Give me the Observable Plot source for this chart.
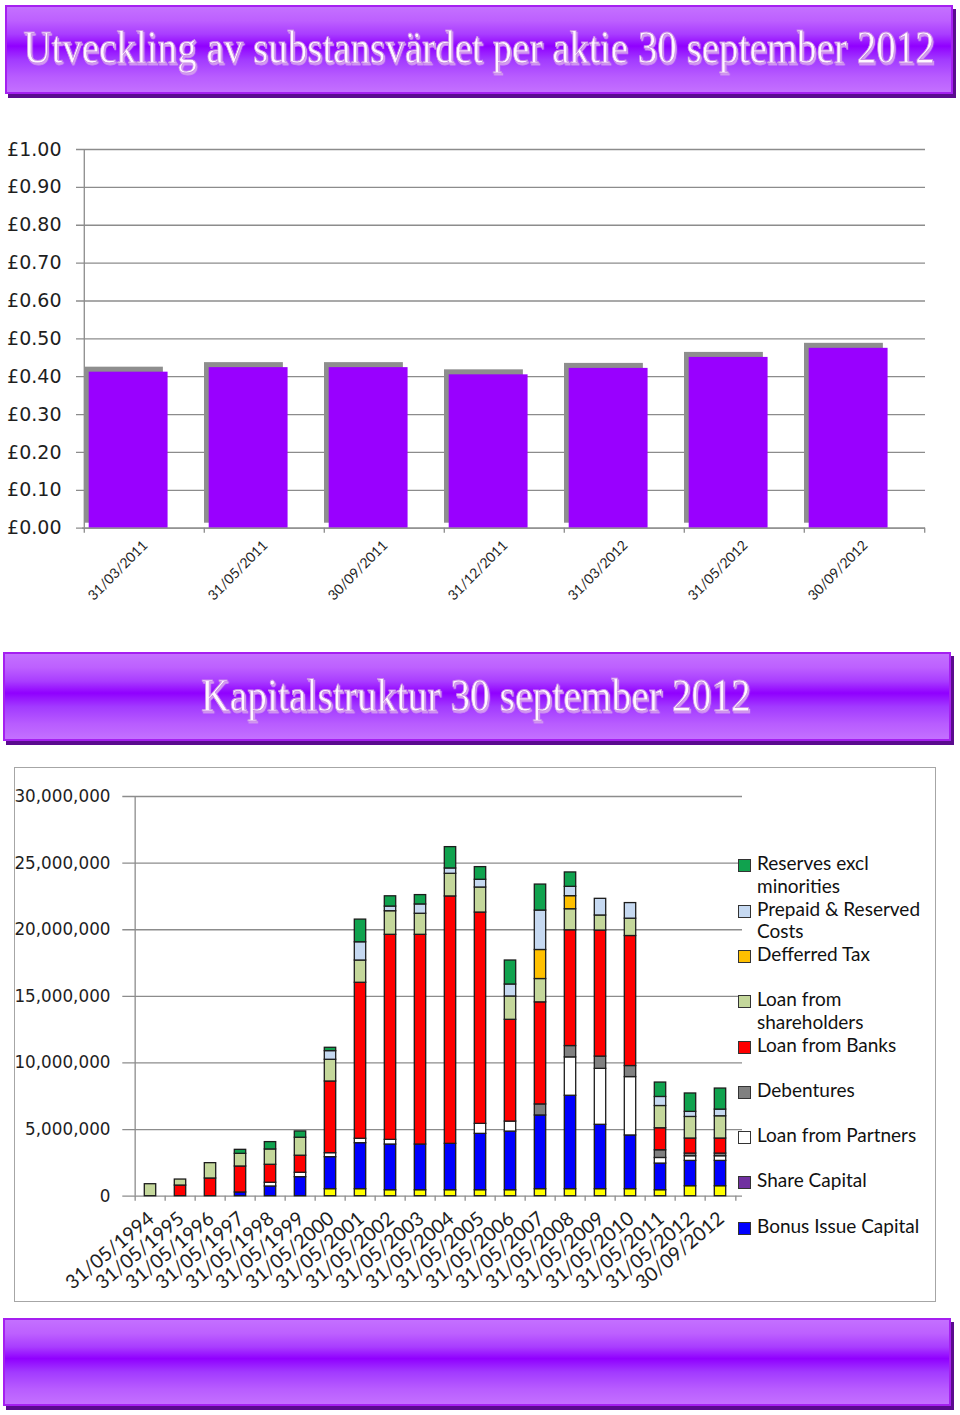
<!DOCTYPE html>
<html><head><meta charset="utf-8">
<script src="https://cdn.jsdelivr.net/npm/d3@7"></script>
<script src="https://cdn.jsdelivr.net/npm/@observablehq/plot@0.6"></script>
<style>
body{margin:0;background:#fff;}
#page{position:relative;width:960px;height:1415px;overflow:hidden;background:#fff;}
.banner{position:absolute;box-sizing:border-box;border:2px solid #a51ff0;
 background:linear-gradient(to bottom,#c470ff 0%,#bd60ff 16%,#a93dff 32%,#9000ff 46%,#a23aff 62%,#b85cff 82%,#c470ff 100%);
 box-shadow:3px 4px 0 #5b0b8f;}
.banner svg{position:absolute;left:0;top:0;overflow:visible;}
.chart{position:absolute;left:0;}
#box2{position:absolute;left:14px;top:767px;width:922px;height:535px;box-sizing:border-box;border:1.5px solid #a6a6a6;}
.lg-sw{position:absolute;width:11px;height:11px;border:1px solid #333;box-sizing:content-box;}
.lg-tx{position:absolute;font-family:Lato,sans-serif;font-size:19px;line-height:22.7px;color:#111;white-space:pre;}
</style></head>
<body><div id="page"></div>
<script>
// ---------- data ----------
const title1 = "Utveckling av substansvärdet per aktie 30 september 2012";
const title2 = "Kapitalstruktur 30 september 2012";

const navDates = ["31/03/2011","31/05/2011","30/09/2011","31/12/2011","31/03/2012","31/05/2012","30/09/2012"];
const navValues = [0.412,0.424,0.424,0.405,0.422,0.451,0.475];
const navTicks = [0,0.1,0.2,0.3,0.4,0.5,0.6,0.7,0.8,0.9,1.0];

const capDates = ["31/05/1994","31/05/1995","31/05/1996","31/05/1997","31/05/1998","31/05/1999","31/05/2000",
 "31/05/2001","31/05/2002","31/05/2003","31/05/2004","31/05/2005","31/05/2006","31/05/2007","31/05/2008",
 "31/05/2009","31/05/2010","31/05/2011","31/05/2012","30/09/2012"];
const capTicks = [0,5,10,15,20,25,30]; // millions

// series, bottom of stack first (values in millions)
const seriesNames = ["(not in legend)","Bonus Issue Capital","Share Capital","Loan from Partners","Debentures",
 "Loan from Banks","Loan from shareholders","Defferred Tax","Prepaid & Reserved Costs","Reserves excl minorities"];
const seriesColors = ["#ffff00","#0000ff","#7030a0","#ffffff","#808080","#ff0000","#c4d79b","#ffc000","#c6d9f1","#10a24e"];
const unlabelled        = [0,0,0,0,0,0,0.53,0.53,0.45,0.45,0.45,0.45,0.45,0.53,0.53,0.53,0.53,0.45,0.75,0.75];
const bonusIssueCapital = [0,0,0,0.28,0.73,1.43,2.4,3.45,3.43,3.43,3.48,4.23,4.4,5.53,7.01,4.83,4.03,2.0,1.9,1.9];
const shareCapital      = [0,0,0,0,0,0,0,0,0,0,0,0,0,0,0,0,0,0,0,0];
const loanPartners      = [0,0,0,0,0.28,0.33,0.3,0.33,0.35,0,0,0.75,0.75,0,2.88,4.2,4.38,0.42,0.35,0.35];
const debentures        = [0,0,0,0,0,0,0,0,0,0,0,0,0,0.83,0.85,0.92,0.83,0.58,0.2,0.2];
const loanBanks         = [0,0.8,1.33,1.95,1.35,1.28,5.38,11.71,15.39,15.74,18.57,15.86,7.64,7.66,8.69,9.46,9.76,1.65,1.13,1.13];
const loanShareholders  = [0.9,0.45,1.15,0.95,1.15,1.35,1.63,1.67,1.77,1.58,1.7,1.88,1.75,1.75,1.58,1.13,1.3,1.67,1.62,1.67];
const deferredTax       = [0,0,0,0,0,0,0,0,0,0,0,0,0,2.18,0.98,0,0,0,0,0];
const prepaidCosts      = [0,0,0,0,0,0,0.65,1.37,0.35,0.7,0.4,0.58,0.9,2.96,0.7,1.25,1.17,0.68,0.38,0.5];
const reserves          = [0,0,0,0.3,0.55,0.47,0.25,1.7,0.77,0.7,1.6,0.95,1.8,1.95,1.08,0,0,1.08,1.38,1.58];
const seriesValues = [unlabelled,bonusIssueCapital,shareCapital,loanPartners,debentures,loanBanks,
 loanShareholders,deferredTax,prepaidCosts,reserves];

const legendLabels = ["Reserves excl\nminorities","Prepaid & Reserved\nCosts","Defferred Tax","Loan from\nshareholders",
 "Loan from Banks","Debentures","Loan from Partners","Share Capital","Bonus Issue Capital"];
const legendColors = ["#10a24e","#c6d9f1","#ffc000","#c4d79b","#ff0000","#808080","#ffffff","#7030a0","#0000ff"];

// ---------- page ----------
const page = document.getElementById("page");
const NS = "http://www.w3.org/2000/svg";
function banner(left, top, w, h, text, cx, baseY, len) {
  const d = document.createElement("div");
  d.className = "banner";
  Object.assign(d.style, {left: left+"px", top: top+"px", width: w+"px", height: h+"px"});
  page.appendChild(d);
  if (!text) return;
  const s = document.createElementNS(NS, "svg");
  s.setAttribute("width", w - 4); s.setAttribute("height", h - 4);
  s.innerHTML = `<defs><filter id="f${top}" x="-5%" y="-20%" width="110%" height="140%"><feDropShadow dx="1.2" dy="1.5" stdDeviation="0.4" flood-color="#d49cf0" flood-opacity="1"/></filter></defs>`;
  d.appendChild(s);
  const baseSize = 47;
  const t = document.createElementNS(NS, "text");
  t.setAttribute("text-anchor", "middle");
  t.setAttribute("font-family", "Liberation Serif, DejaVu Serif, serif");
  t.setAttribute("font-size", baseSize);
  t.setAttribute("fill", "#fff6ff");
  t.setAttribute("stroke", "#c98ce6"); t.setAttribute("stroke-width", "0.7");
  t.setAttribute("filter", `url(#f${top})`);
  t.textContent = text;
  s.appendChild(t);
  // fit the natural width to the target width, then stretch vertically to keep the cap height
  const natural = t.getComputedTextLength();
  const fs = baseSize * len / natural;
  const k = baseSize / fs;
  t.setAttribute("font-size", fs);
  t.setAttribute("x", cx);
  t.setAttribute("y", baseY / k);
  t.setAttribute("transform", `scale(1,${k})`);
}
banner(5, 5, 948, 89, title1, 472, 56, 912);
banner(3, 652, 948, 89, title2, 471, 57, 550);
banner(3, 1318, 948, 88, "", 0, 0, 0);

const grid = "#8c8c8c";

// ---------- chart 1 ----------
{
  const W = 960, H = 530, mL = 82, mR = 35;
  const step = (W - mL - mR) / navDates.length;
  const data = navDates.map((d, i) => ({date: d, value: navValues[i]}));
  const svg = Plot.plot({
    width: W, height: H, marginTop: 49, marginBottom: 102.3, marginLeft: mL, marginRight: mR,
    x: {domain: navDates, padding: 0, axis: null},
    y: {domain: [0, 1], axis: null},
    style: {background: "transparent", overflow: "visible"},
    marks: [
      Plot.ruleY(navTicks, {stroke: grid, strokeWidth: 1.3, insetLeft: -6}),
      Plot.ruleX([navDates[0]], {dx: -step/2, y1: 0, y2: 1, stroke: grid, strokeWidth: 1.3}),
      Plot.barY(data, {x: "date", y: "value", fill: "#8e8e8e", insetLeft: 0, insetRight: step - 79.3, dy: -5}),
      Plot.barY(data, {x: "date", y: "value", fill: "#9900ff", insetLeft: 4.7, insetRight: step - 84}),
      Plot.ruleY([0], {stroke: grid, strokeWidth: 1.3}),
      Plot.ruleX(navDates, {dx: -step/2, y1: 0, y2: 0, insetBottom: -5, stroke: grid, strokeWidth: 1.3}),
      Plot.ruleX([navDates[navDates.length-1]], {dx: step/2, y1: 0, y2: 0, insetBottom: -5, stroke: grid, strokeWidth: 1.3}),
      Plot.text(navTicks, {y: d => d, text: d => "£" + d.toFixed(2), frameAnchor: "left", textAnchor: "end",
        dx: -21, fontFamily: "DejaVu Sans", fontSize: 19, fill: "#1e1e1e"}),
      Plot.text(navDates, {x: d => d, text: d => d, frameAnchor: "bottom", rotate: -45, textAnchor: "end",
        lineAnchor: "top", dx: -3, dy: 11, fontFamily: "Lato", fontSize: 14, fill: "#1e1e1e"})
    ]
  });
  svg.classList.add("chart"); svg.style.top = "100px";
  page.appendChild(svg);
}

// ---------- chart 2 ----------
const box = document.createElement("div"); box.id = "box2"; page.appendChild(box);
{
  const W = 960, H = 535, mL = 128.3, mR = 218;
  const step = (W - mL - mR) / capDates.length;
  const capData = [];
  seriesNames.forEach((s, si) => capDates.forEach((d, di) => {
    const v = seriesValues[si][di];
    if (v > 0) capData.push({date: d, series: s, value: v});
  }));
  const svg = Plot.plot({
    width: W, height: H, marginTop: 29, marginBottom: 106.3, marginLeft: mL, marginRight: mR,
    x: {domain: capDates, padding: 0, axis: null},
    y: {domain: [0, 30], axis: null},
    color: {domain: seriesNames, range: seriesColors},
    style: {background: "transparent", overflow: "visible"},
    marks: [
      Plot.ruleY(capTicks, {stroke: grid, strokeWidth: 1.3, insetLeft: -6}),
      Plot.ruleX([capDates[0]], {dx: -step/2, y1: 0, y2: 30, stroke: grid, strokeWidth: 1.3}),
      Plot.barY(capData, {x: "date", y: "value", fill: "series", order: seriesNames,
        stroke: "#1c1c1c", strokeWidth: 1.3, insetLeft: 9.3, insetRight: 9.3}),
      Plot.ruleX(capDates, {dx: -step/2, y1: 0, y2: 0, insetBottom: -5, stroke: grid, strokeWidth: 1.3}),
      Plot.ruleX([capDates[capDates.length-1]], {dx: step/2, y1: 0, y2: 0, insetBottom: -5, stroke: grid, strokeWidth: 1.3}),
      Plot.text(capTicks, {y: d => d, text: d => d3.format(",")(d * 1e6), frameAnchor: "left", textAnchor: "end",
        dx: -18.3, fontFamily: "DejaVu Sans", fontSize: 16.8, fill: "#1e1e1e"}),
      Plot.text(capDates, {x: d => d, text: d => d, frameAnchor: "bottom", rotate: -40, textAnchor: "end",
        lineAnchor: "top", dx: -4, dy: 14, fontFamily: "Lato", fontSize: 19.5, fill: "#1e1e1e"})
    ]
  });
  svg.classList.add("chart"); svg.style.top = "767px";
  page.appendChild(svg);
}

// ---------- legend ----------
legendLabels.forEach((lab, i) => {
  const top = 859.3 + 45.3 * i;
  const sw = document.createElement("div");
  sw.className = "lg-sw";
  Object.assign(sw.style, {left: "738px", top: top + "px", background: legendColors[i]});
  const tx = document.createElement("div");
  tx.className = "lg-tx";
  Object.assign(tx.style, {left: "757px", top: (top - 7) + "px"});
  tx.textContent = lab;
  page.appendChild(sw); page.appendChild(tx);
});
</script>
</body></html>
